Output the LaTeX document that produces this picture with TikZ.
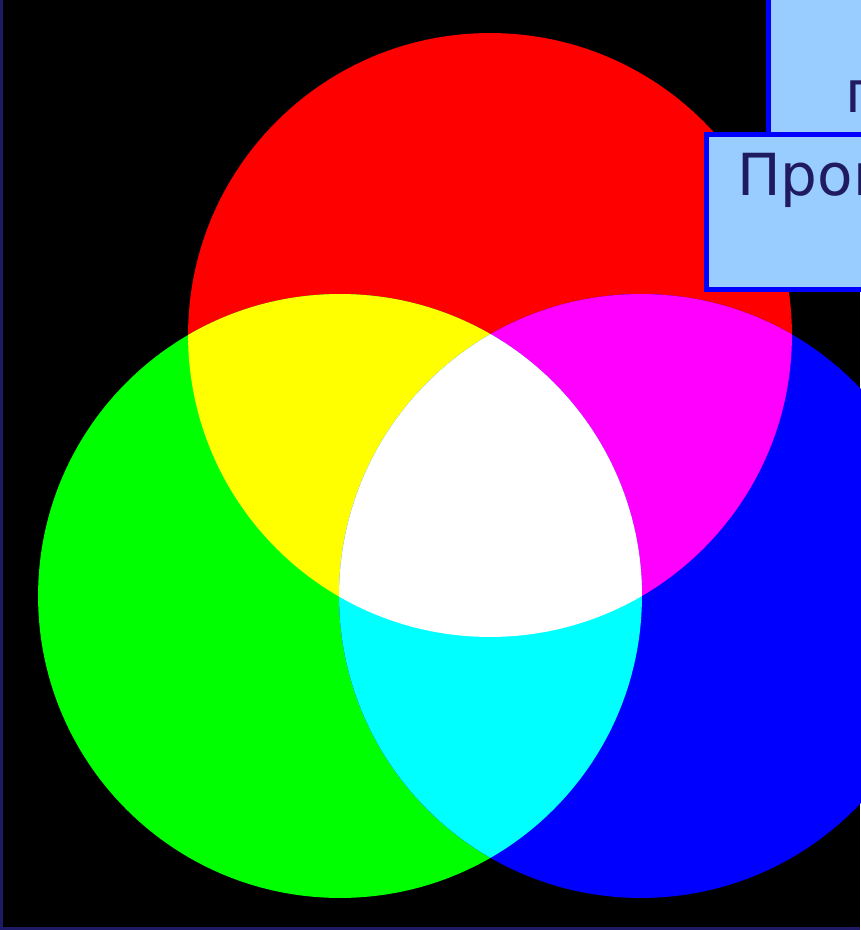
\documentclass[tikz,border=0pt]{standalone}
\usepackage{fontspec}
\setsansfont{DejaVu Sans}
\usetikzlibrary{positioning, calc}
\usepackage{xcolor}
\definecolor{slframe}{HTML}{1F1A66}
\definecolor{sltext}{HTML}{201A60}
\definecolor{slbox}{HTML}{99CCFF}
\definecolor{slborder}{HTML}{0000FF}
\definecolor{mixr}{HTML}{FF0000}
\definecolor{mixg}{HTML}{00FF00}
\definecolor{mixb}{HTML}{0000FF}
\definecolor{mixy}{HTML}{FFFF00}
\definecolor{mixm}{HTML}{FF00FF}
\definecolor{mixc}{HTML}{00FFFF}

\begin{document}
\begin{tikzpicture}[x=0.02cm, y=-0.02cm,
          b/.style={draw=slborder, fill=slbox, line width=0.1cm, minimum width=7cm, anchor=north west, inner sep=0pt},
          t/.style={text=sltext, font=\sffamily\fontsize{33}{36}\selectfont, anchor=base west, inner sep=0pt}]
        \useasboundingbox (0,0) rectangle (860,930);
        \fill[black] (0,0) rectangle (860,930);
        \coordinate (r) at (490,335);
        \coordinate (g) at (340,596);
        \coordinate (bl) at (641,596);
        % primaries
        \fill[mixr] (r) circle[radius=6.04cm];
        \fill[mixg] (g) circle[radius=6.04cm];
        \fill[mixb] (bl) circle[radius=6.04cm];
        % mixtures
        \begin{scope}
          \clip (r) circle[radius=6.04cm];
          \fill[mixy] (g) circle[radius=6.04cm];
          \fill[mixm] (bl) circle[radius=6.04cm];
        \end{scope}
        \begin{scope}
          \clip (g) circle[radius=6.04cm];
          \fill[mixc] (bl) circle[radius=6.04cm];
          \clip (r) circle[radius=6.04cm];
          \fill[white] (bl) circle[radius=6.04cm];
        \end{scope}
        % frame
        \draw[slframe, line width=0.06cm] (1.5,0) -- (1.5,928.5) -- (860,928.5);
        % text boxes
        \node[b, minimum height=4.64cm] (top) at (766,-100) {};
        \node[t] (tw) at ($(top.north west)+(79,212)$) {п};
        \node[b, minimum height=3.1cm] (low) at (704,132) {};
        \node[t] (lw) at ($(low.north west)+(33,63)$) {Прог};
\end{tikzpicture}
\end{document}
